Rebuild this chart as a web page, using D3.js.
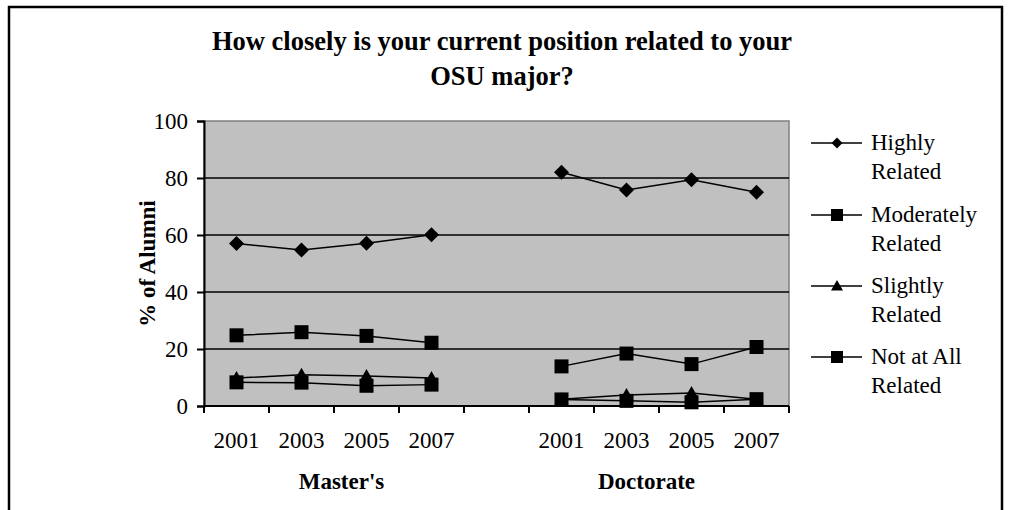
<!DOCTYPE html>
<html>
<head>
<meta charset="utf-8">
<script src="https://cdn.jsdelivr.net/npm/d3@7"></script>
<style>
	body { margin: 0; background: #fff; }
	svg { display: block; font-family: "Liberation Serif", "Times New Roman", serif; }
</style>
</head>
<body>
<div id="chart"></div>
<script>
//	数据
const years = ['2001', '2003', '2005', '2007'];
const groups = ["Master's", 'Doctorate'];
const seriesNames = ['Highly Related', 'Moderately Related', 'Slightly Related', 'Not at All Related'];
const highlyMasters = [57, 54.7, 57.1, 60.1];
const highlyDoctorate = [82, 75.8, 79.4, 75];
const moderatelyMasters = [24.8, 25.9, 24.6, 22.2];
const moderatelyDoctorate = [13.9, 18.4, 14.7, 20.7];
const slightlyMasters = [9.8, 11.0, 10.5, 9.8];
const slightlyDoctorate = [2.4, 3.9, 4.6, 2.4];
const notAtAllMasters = [8.3, 8.2, 7.1, 7.5];
const notAtAllDoctorate = [2.3, 1.8, 1.3, 2.4];
const yTicks = [0, 20, 40, 60, 80, 100];

const width = 1010, height = 510;
const plot = { left: 204, right: 789, top: 121, bottom: 406 };
const fontFamily = '"Liberation Serif", "Times New Roman", serif';

//	类别：硕士4年 + 空档 + 博士4年
const slots = [];
groups.forEach((g, gi) => {
	if (gi > 0) slots.push('gap');
	years.forEach(y => slots.push(g + '|' + y));
});

const x = d3.scaleBand().domain(slots).range([plot.left, plot.right]).padding(0);
const y = d3.scaleLinear().domain([0, 100]).range([plot.bottom, plot.top]);
const cx = key => x(key) + x.bandwidth() / 2;

const series = [
	{ name: seriesNames[0], shape: 'diamond', values: [highlyMasters, highlyDoctorate] },
	{ name: seriesNames[1], shape: 'square', values: [moderatelyMasters, moderatelyDoctorate] },
	{ name: seriesNames[2], shape: 'triangle', values: [slightlyMasters, slightlyDoctorate] },
	{ name: seriesNames[3], shape: 'square', values: [notAtAllMasters, notAtAllDoctorate] },
];

const svg = d3.select('#chart').append('svg')
	.attr('width', width)
	.attr('height', height);

//	外框
svg.append('rect')
	.attr('x', 9).attr('y', 7)
	.attr('width', 993).attr('height', 510)
	.attr('fill', '#fff')
	.attr('stroke', '#000')
	.attr('stroke-width', 2.5);

//	标题
const title = svg.append('text')
	.attr('text-anchor', 'middle')
	.attr('font-weight', 'bold')
	.attr('font-size', 26.5);
title.append('tspan').attr('x', 502).attr('y', 50).text('How closely is your current position related to your');
title.append('tspan').attr('x', 502).attr('y', 85).text('OSU major?');

//	绘图区
svg.append('rect')
	.attr('x', plot.left).attr('y', plot.top)
	.attr('width', plot.right - plot.left).attr('height', plot.bottom - plot.top)
	.attr('fill', '#c0c0c0')
	.attr('stroke', '#808080')
	.attr('stroke-width', 1.5);

//	网格线
svg.selectAll('line.grid')
	.data(yTicks.filter(t => t > 0 && t < 100))
	.enter()
	.append('line')
	.attr('class', 'grid')
	.attr('x1', plot.left).attr('x2', plot.right)
	.attr('y1', d => y(d)).attr('y2', d => y(d))
	.attr('stroke', '#000')
	.attr('stroke-width', 1.5);

//	Y轴
const yAxis = svg.append('g')
	.attr('transform', 'translate(' + plot.left + ',0)')
	.call(d3.axisLeft(y).tickValues(yTicks).tickSize(7).tickPadding(9))
	.attr('font-family', fontFamily);
yAxis.select('.domain').attr('stroke', '#000').attr('stroke-width', 2);
yAxis.selectAll('.tick line').attr('stroke', '#000').attr('stroke-width', 2);
yAxis.selectAll('.tick text')
	.attr('font-size', 23)
	.attr('fill', '#000');

//	X轴：刻度在类别之间
const xAxisG = svg.append('g');
xAxisG.append('line')
	.attr('x1', plot.left).attr('x2', plot.right)
	.attr('y1', plot.bottom).attr('y2', plot.bottom)
	.attr('stroke', '#000').attr('stroke-width', 2);
const boundaries = slots.map(s => x(s)).concat([plot.right]);
xAxisG.selectAll('line.tick')
	.data(boundaries)
	.enter()
	.append('line')
	.attr('class', 'tick')
	.attr('x1', d => d).attr('x2', d => d)
	.attr('y1', plot.bottom).attr('y2', plot.bottom + 7)
	.attr('stroke', '#000').attr('stroke-width', 2);

//	年份标签
xAxisG.selectAll('text.year')
	.data(slots.filter(s => s !== 'gap'))
	.enter()
	.append('text')
	.attr('class', 'year')
	.attr('x', d => cx(d))
	.attr('y', 448)
	.attr('text-anchor', 'middle')
	.attr('font-size', 23)
	.text(d => d.split('|')[1]);

//	分组标签
const groupShift = [40, 20];
xAxisG.selectAll('text.group')
	.data(groups)
	.enter()
	.append('text')
	.attr('class', 'group')
	.attr('x', (d, i) => cx(d + '|' + years[1]) + groupShift[i])
	.attr('y', 489)
	.attr('text-anchor', 'middle')
	.attr('font-weight', 'bold')
	.attr('font-size', 23)
	.text(d => d);

//	Y轴标题
svg.append('text')
	.attr('transform', 'translate(155,' + ((plot.top + plot.bottom) / 2) + ') rotate(-90)')
	.attr('text-anchor', 'middle')
	.attr('font-weight', 'bold')
	.attr('font-size', 23)
	.text('% of Alumni');

//	标记形状
const markerPath = (shape, s) => {
	if (shape === 'diamond') {
		return 'M0,' + (-s) + 'L' + s + ',0L0,' + s + 'L' + (-s) + ',0Z';
	}
	if (shape === 'triangle') {
		return 'M0,' + (-s) + 'L' + s + ',' + (s * 0.75) + 'L' + (-s) + ',' + (s * 0.75) + 'Z';
	}
	return 'M' + (-s) + ',' + (-s) + 'H' + s + 'V' + s + 'H' + (-s) + 'Z';
};
const markerSize = { diamond: 7.5, square: 7, triangle: 7 };

const line = d3.line().x(d => d.x).y(d => d.y);

series.forEach(s => {
	const g = svg.append('g');
	s.values.forEach((vals, gi) => {
		const pts = vals.map((v, i) => ({ x: cx(groups[gi] + '|' + years[i]), y: y(v) }));
		g.append('path')
			.attr('d', line(pts))
			.attr('fill', 'none')
			.attr('stroke', '#000')
			.attr('stroke-width', 1.5);
		g.selectAll(null)
			.data(pts)
			.enter()
			.append('path')
			.attr('transform', d => 'translate(' + d.x + ',' + d.y + ')')
			.attr('d', markerPath(s.shape, markerSize[s.shape]))
			.attr('fill', '#000');
	});
});

//	图例
const legend = svg.append('g');
const legendY = [143, 215, 286, 357];
series.forEach((s, i) => {
	const row = legend.append('g').attr('transform', 'translate(0,' + legendY[i] + ')');
	row.append('line')
		.attr('x1', 811).attr('x2', 862)
		.attr('y1', 0).attr('y2', 0)
		.attr('stroke', '#000').attr('stroke-width', 1.5);
	row.append('path')
		.attr('transform', 'translate(837,0)')
		.attr('d', markerPath(s.shape, s.shape === 'diamond' ? 5.5 : 6))
		.attr('fill', '#000');
	const words = s.name.split(' ');
	const first = words.slice(0, words.length - 1).join(' ');
	const t = row.append('text').attr('font-size', 23);
	t.append('tspan').attr('x', 871).attr('y', 7).text(first);
	t.append('tspan').attr('x', 871).attr('y', 36).text(words[words.length - 1]);
});
</script>
</body>
</html>
